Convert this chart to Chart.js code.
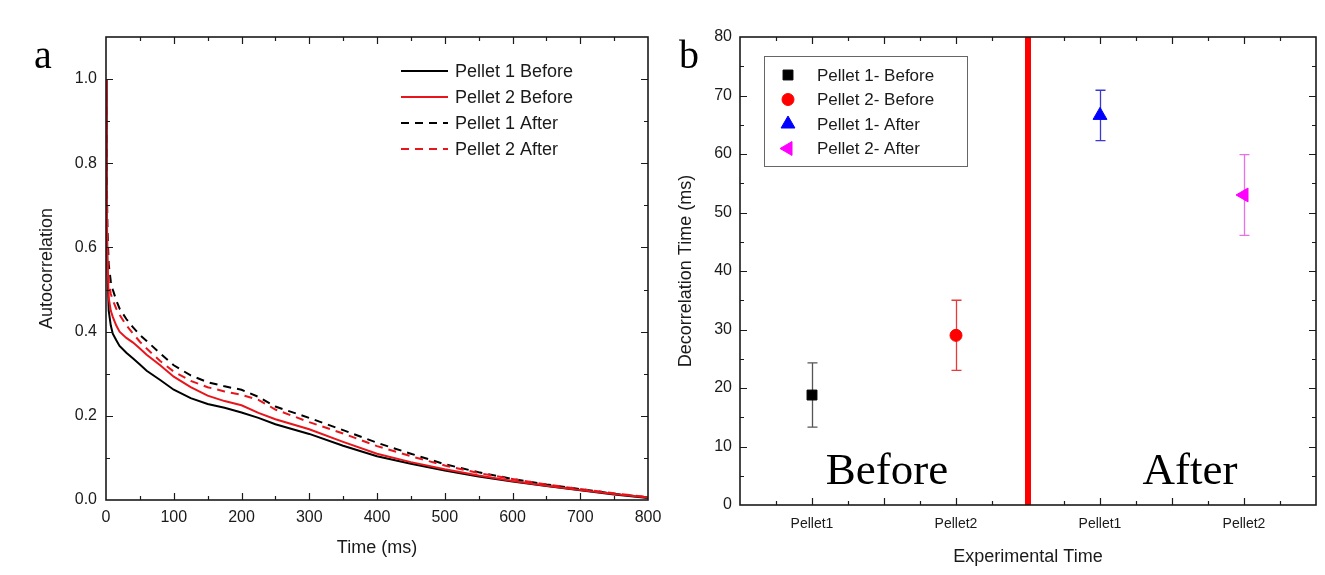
<!DOCTYPE html>
<html>
<head>
<meta charset="utf-8">
<script src="https://cdn.jsdelivr.net/npm/chart.js@4.4.1/dist/chart.umd.min.js"></script>
<style>
html, body { margin: 0; padding: 0; background: #fff; }
#wrap { position: relative; width: 1325px; height: 575px; overflow: hidden; }
#chartA { position: absolute; left: 0; top: 0; }
#chartB { position: absolute; left: 660px; top: 0; }
</style>
</head>
<body>
<div id="wrap">
	<canvas id="chartA" width="680" height="575"></canvas>
	<canvas id="chartB" width="665" height="575"></canvas>
</div>
<script>
// ---- panel a: autocorrelation curves ----
var timeMs = [0, 1, 2, 4, 7, 10, 15, 20, 30, 40, 50, 60, 80, 100, 125, 150, 175, 200, 225, 250, 300, 350, 400, 450, 500, 550, 600, 650, 700, 750, 800];
var pellet1Before = [1.0, 0.70, 0.55, 0.45, 0.415, 0.395, 0.38, 0.366, 0.35, 0.336, 0.322, 0.307, 0.285, 0.262, 0.242, 0.228, 0.219, 0.208, 0.195, 0.18, 0.157, 0.129, 0.104, 0.086, 0.07, 0.056, 0.044, 0.033, 0.023, 0.013, 0.005];
var pellet2Before = [1.0, 0.75, 0.58, 0.48, 0.45, 0.435, 0.415, 0.40, 0.385, 0.374, 0.36, 0.345, 0.32, 0.293, 0.268, 0.248, 0.235, 0.225, 0.207, 0.192, 0.168, 0.138, 0.11, 0.09, 0.073, 0.058, 0.045, 0.034, 0.024, 0.014, 0.006];
var pellet1After = [1.0, 0.80, 0.65, 0.56, 0.52, 0.50, 0.475, 0.455, 0.43, 0.41, 0.392, 0.378, 0.348, 0.32, 0.296, 0.28, 0.27, 0.262, 0.245, 0.222, 0.195, 0.166, 0.136, 0.11, 0.085, 0.066, 0.05, 0.037, 0.026, 0.015, 0.006];
var pellet2After = [1.0, 0.78, 0.62, 0.52, 0.49, 0.475, 0.455, 0.44, 0.415, 0.395, 0.376, 0.36, 0.33, 0.305, 0.283, 0.268, 0.258, 0.25, 0.238, 0.215, 0.185, 0.158, 0.128, 0.104, 0.082, 0.064, 0.05, 0.037, 0.026, 0.016, 0.007];
var curveLabels = ["Pellet 1 Before", "Pellet 2 Before", "Pellet 1 After", "Pellet 2 After"];

// ---- panel b: decorrelation times ----
var categories = ["Pellet1", "Pellet2", "Pellet1", "Pellet2"];
var categoryPos = [1, 2, 3, 4];
var decorLabels = ["Pellet 1- Before", "Pellet 2- Before", "Pellet 1- After", "Pellet 2- After"];
var decorMean = [18.8, 29.0, 66.6, 53.0];
var decorErr = [5.5, 6.0, 4.3, 6.9];
var dividerX = 2.5;

var FONT = "'Liberation Sans', Arial, sans-serif";
var INK = "#1a1a1a";

function near(v, step) {
	return Math.abs(v / step - Math.round(v / step)) < 1e-6;
}

function toXY(xs, ys) {
	return xs.map(function (x, i) { return { x: x, y: ys[i] }; });
}

// box around the plot with inward ticks on all four sides
var framePlugin = {
	id: "frame",
	afterDatasetsDraw: function (chart, args, o) {
		var a = chart.chartArea, ctx = chart.ctx;
		var xs = chart.scales.x, ys = chart.scales.y;
		ctx.save();
		ctx.strokeStyle = INK;
		ctx.lineWidth = 1.2;
		xs.ticks.forEach(function (t) {
			if (o.skipX != null && Math.abs(t.value - o.skipX) < 1e-6) return;
			var px = Math.round(xs.getPixelForValue(t.value)) + 0.5;
			if (px <= a.left + 1 || px >= a.right - 1) return;
			var len = near(t.value, o.xMajor) ? 7 : 4;
			ctx.beginPath();
			ctx.moveTo(px, a.bottom); ctx.lineTo(px, a.bottom - len);
			ctx.moveTo(px, a.top); ctx.lineTo(px, a.top + len);
			ctx.stroke();
		});
		ys.ticks.forEach(function (t) {
			var py = Math.round(ys.getPixelForValue(t.value)) + 0.5;
			if (py <= a.top + 1 || py >= a.bottom - 1) return;
			var len = near(t.value, o.yMajor) ? 7 : 4;
			ctx.beginPath();
			ctx.moveTo(a.left, py); ctx.lineTo(a.left + len, py);
			ctx.moveTo(a.right, py); ctx.lineTo(a.right - len, py);
			ctx.stroke();
		});
		ctx.lineWidth = 1.6;
		ctx.strokeRect(a.left, a.top, a.right - a.left, a.bottom - a.top);
		ctx.restore();
	},
};

// legend drawn inside the plot
var insideLegend = {
	id: "insideLegend",
	afterDraw: function (chart, args, o) {
		var ctx = chart.ctx;
		ctx.save();
		if (o.box) {
			ctx.strokeStyle = "#666";
			ctx.lineWidth = 1;
			ctx.strokeRect(o.box[0] + 0.5, o.box[1] + 0.5, o.box[2], o.box[3]);
		}
		ctx.font = o.fontSize + "px " + FONT;
		ctx.textBaseline = "middle";
		ctx.fillStyle = INK;
		var row = 0;
		chart.data.datasets.forEach(function (ds) {
			if (ds.noLegend) return;
			var y = o.y + row * o.rowH;
			if (o.kind === "line") {
				ctx.strokeStyle = ds.borderColor;
				ctx.lineWidth = ds.borderWidth;
				ctx.setLineDash(ds.borderDash || []);
				ctx.beginPath();
				ctx.moveTo(o.x, y); ctx.lineTo(o.x + o.sampleW, y);
				ctx.stroke();
				ctx.setLineDash([]);
			} else {
				ctx.fillStyle = ds.backgroundColor;
				ctx.strokeStyle = ds.borderColor;
				Chart.helpers.drawPoint(ctx, {
					pointStyle: ds.pointStyle,
					radius: ds.pointRadius,
					rotation: ds.pointRotation || 0,
					borderWidth: 1,
				}, o.x, y);
			}
			ctx.fillStyle = INK;
			ctx.fillText(ds.label, o.textX, y + 1);
			row++;
		});
		ctx.restore();
	},
};

// error bars behind the markers
var errorBars = {
	id: "errorBars",
	beforeDatasetsDraw: function (chart) {
		var ctx = chart.ctx, xs = chart.scales.x, ys = chart.scales.y;
		ctx.save();
		ctx.lineWidth = 1.3;
		chart.data.datasets.forEach(function (ds) {
			if (ds.errorBar == null) return;
			var p = ds.data[0];
			var px = Math.round(xs.getPixelForValue(p.x)) + 0.5;
			var top = ys.getPixelForValue(p.y + ds.errorBar);
			var bot = ys.getPixelForValue(p.y - ds.errorBar);
			ctx.strokeStyle = ds.errorColor;
			ctx.beginPath();
			ctx.moveTo(px, top); ctx.lineTo(px, bot);
			ctx.moveTo(px - 5, top); ctx.lineTo(px + 5, top);
			ctx.moveTo(px - 5, bot); ctx.lineTo(px + 5, bot);
			ctx.stroke();
		});
		ctx.restore();
	},
};

// panel letters and the Before / After words
var panelText = {
	id: "panelText",
	afterDraw: function (chart, args, o) {
		var ctx = chart.ctx;
		ctx.save();
		ctx.fillStyle = "#000";
		ctx.textBaseline = "alphabetic";
		(o.items || []).forEach(function (it) {
			ctx.font = it.size + "px 'Liberation Serif', 'Times New Roman', serif";
			ctx.textAlign = it.align || "left";
			ctx.fillText(it.text, it.x, it.y);
		});
		ctx.restore();
	},
};

Chart.defaults.font.family = FONT;
Chart.defaults.color = INK;

var dashes = [[], [], [8, 6], [8, 6]];
var colors = ["#000000", "#e8161c", "#000000", "#e8161c"];
var drawOrder = [1, 0, 3, 2];
var curveSeries = [pellet1Before, pellet2Before, pellet1After, pellet2After];

var chartA = new Chart(document.getElementById("chartA"), {
	type: "line",
	data: {
		datasets: curveSeries.map(function (ys, i) {
			return {
				label: curveLabels[i],
				data: toXY(timeMs, ys),
				borderColor: colors[i],
				borderWidth: 2,
				borderDash: dashes[i],
				pointRadius: 0,
				tension: 0,
				fill: false,
				order: drawOrder[i],
			};
		}),
	},
	options: {
		responsive: false,
		animation: false,
		layout: { padding: { left: 0, right: 32, top: 37, bottom: 0 } },
		scales: {
			x: {
				type: "linear",
				min: 0,
				max: 800,
				grid: { display: false, drawTicks: false },
				border: { display: false },
				ticks: {
					stepSize: 50,
					padding: 8,
					maxRotation: 0,
					autoSkip: false,
					font: { size: 16 },
					callback: function (v) { return near(v, 100) ? String(v) : ""; },
				},
				title: { display: true, text: "Time (ms)", font: { size: 18 }, padding: { top: 0, bottom: 16 } },
				afterFit: function (s) { s.height = 75; s.paddingLeft = 0; s.paddingRight = 0; },
			},
			y: {
				min: 0,
				max: 1.1,
				grid: { display: false, drawTicks: false },
				border: { display: false },
				ticks: {
					stepSize: 0.1,
					padding: 9,
					autoSkip: false,
					font: { size: 16 },
					callback: function (v) { return near(v, 0.2) && v < 1.05 ? v.toFixed(1) : ""; },
				},
				title: { display: true, text: "Autocorrelation", font: { size: 18 }, padding: { top: 36, bottom: 0 } },
				afterFit: function (s) { s.width = 106; s.paddingTop = 0; s.paddingBottom = 0; },
			},
		},
		plugins: {
			legend: { display: false },
			tooltip: { enabled: false },
			frame: { xMajor: 100, yMajor: 0.2 },
			insideLegend: { kind: "line", x: 401, y: 71, rowH: 26, sampleW: 47, textX: 455, fontSize: 18 },
			panelText: { items: [{ text: "a", x: 34, y: 68, size: 40 }] },
		},
	},
	plugins: [framePlugin, insideLegend, panelText],
});

var pointStyles = ["rect", "circle", "triangle", "triangle"];
var pointRot = [0, 0, 0, 270];
var pointRad = [7, 6, 8, 8];
var pointColors = ["#000000", "#ff0000", "#0000ff", "#ff00ff"];
var errColors = ["#555555", "#e83a3a", "#3a3ad0", "#e870e8"];

var decorSets = decorMean.map(function (m, i) {
	return {
		type: "scatter",
		label: decorLabels[i],
		data: [{ x: categoryPos[i], y: m }],
		pointStyle: pointStyles[i],
		pointRotation: pointRot[i],
		pointRadius: pointRad[i],
		backgroundColor: pointColors[i],
		borderColor: pointColors[i],
		borderWidth: 1,
		errorBar: decorErr[i],
		errorColor: errColors[i],
	};
});
decorSets.push({
	type: "line",
	label: "divider",
	noLegend: true,
	data: [{ x: dividerX, y: 0 }, { x: dividerX, y: 80 }],
	borderColor: "#ff0000",
	backgroundColor: "#ff0000",
	borderWidth: 6,
	borderCapStyle: "butt",
	pointRadius: 0,
});

var chartB = new Chart(document.getElementById("chartB"), {
	type: "scatter",
	data: { datasets: decorSets },
	options: {
		responsive: false,
		animation: false,
		layout: { padding: { left: 0, right: 5, top: 37, bottom: 0 } },
		scales: {
			x: {
				type: "linear",
				min: 0.5,
				max: 4.5,
				grid: { display: false, drawTicks: false },
				border: { display: false },
				ticks: {
					stepSize: 0.25,
					padding: 11,
					maxRotation: 0,
					autoSkip: false,
					font: { size: 14 },
					callback: function (v) {
						var k = categoryPos.indexOf(v);
						return k >= 0 ? categories[k] : "";
					},
				},
				title: { display: true, text: "Experimental Time", font: { size: 18 }, padding: { top: 0, bottom: 7 } },
				afterFit: function (s) { s.height = 70; s.paddingLeft = 0; s.paddingRight = 0; },
			},
			y: {
				min: 0,
				max: 80,
				grid: { display: false, drawTicks: false },
				border: { display: false },
				ticks: {
					stepSize: 5,
					padding: 8,
					autoSkip: false,
					font: { size: 16 },
					callback: function (v) { return near(v, 10) ? String(v) : ""; },
				},
				title: { display: true, text: "Decorrelation Time (ms)", font: { size: 18 }, padding: { top: 15, bottom: 0 } },
				afterFit: function (s) { s.width = 80; s.paddingTop = 0; s.paddingBottom = 0; },
			},
		},
		plugins: {
			legend: { display: false },
			tooltip: { enabled: false },
			frame: { xMajor: 0.5, yMajor: 10, skipX: dividerX },
			insideLegend: { kind: "point", box: [104, 56, 203, 110], x: 128, y: 75, rowH: 24.5, textX: 157, fontSize: 17 },
			panelText: {
				items: [
					{ text: "b", x: 19, y: 68, size: 40 },
					{ text: "Before", x: 227, y: 484, size: 45, align: "center" },
					{ text: "After", x: 530, y: 484, size: 45, align: "center" },
				],
			},
		},
	},
	plugins: [framePlugin, errorBars, insideLegend, panelText],
});
</script>
</body>
</html>
